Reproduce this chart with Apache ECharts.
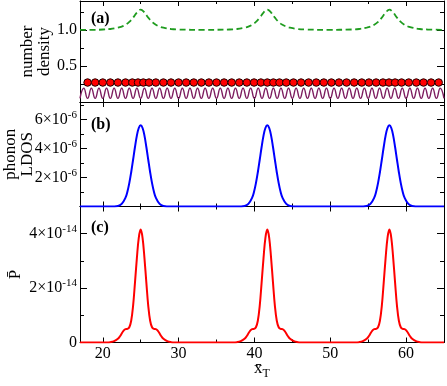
<!DOCTYPE html>
<html>
<head>
<meta charset="utf-8">
<script src="https://cdn.jsdelivr.net/npm/echarts@6/dist/echarts.min.js"></script>
<style>
    html, body { margin: 0; padding: 0; background: #ffffff; }
    #chart { width: 447px; height: 386px; }
</style>
</head>
<body>
<div id="chart"></div>
<script>
// shared x range and tick positions
const xRange = [17, 65];
const xMajorTicks = [20, 30, 40, 50, 60];
const xMinorTicks = [25, 35, 45, 55];

// (a) number density (green dashed)
const densityCurve = [
    [17, 1.0], [19, 1.0], [20, 1.005], [21, 1.012], [22, 1.03], [22.5, 1.045], [23, 1.07], [23.5, 1.11],
    [24, 1.17], [24.5, 1.24], [25, 1.28], [25.5, 1.24], [26, 1.17], [26.5, 1.11], [27, 1.07], [27.5, 1.045],
    [28, 1.03], [29, 1.012], [30, 1.005], [33.3, 1.0], [36.7, 1.005], [37.7, 1.012], [38.7, 1.03], [39.2, 1.045],
    [39.7, 1.07], [40.2, 1.11], [40.7, 1.17], [41.2, 1.24], [41.7, 1.28], [42.2, 1.24], [42.7, 1.17], [43.2, 1.11],
    [43.7, 1.07], [44.2, 1.045], [44.7, 1.03], [45.7, 1.012], [46.7, 1.005], [49.7, 1.0], [52.8, 1.005], [53.8, 1.012],
    [54.8, 1.03], [55.3, 1.045], [55.8, 1.07], [56.3, 1.11], [56.8, 1.17], [57.3, 1.24], [57.8, 1.28], [58.3, 1.24],
    [58.8, 1.17], [59.3, 1.11], [59.8, 1.07], [60.3, 1.045], [60.8, 1.03], [61.8, 1.012], [62.8, 1.005], [65, 1.0],
];

// (a) particle positions (red dots) and their height on the axis
const sitePositions = [
    18, 19, 20, 21, 22, 23, 23.9, 24.65, 25.35, 26.1,
    27, 28, 29, 30, 31, 32, 33, 34, 35, 36, 37, 38, 39,
    39.95, 40.85, 41.7, 42.5, 43.3, 44.2,
    45.15, 46.15, 47.15, 48.15, 49.15, 50.15, 51.15, 52.15, 53.15, 54.15, 55.1,
    56.05, 56.95, 57.75, 58.55, 59.4,
    60.35, 61.35, 62.3, 63.3, 64.3,
];
const siteHeight = 0.27;

// (a) substrate potential (purple wave): troughs and crests
const substrateWave = [
    [17, 0.05], [17.5, 0.19], [18, 0.05], [18.5, 0.19], [19, 0.05], [19.5, 0.19], [20, 0.05], [20.5, 0.19],
    [21, 0.05], [21.5, 0.19], [22, 0.05], [22.5, 0.19], [23, 0.05], [23.5, 0.19], [24, 0.05], [24.5, 0.19],
    [25, 0.05], [25.5, 0.19], [26, 0.05], [26.5, 0.19], [27, 0.05], [27.5, 0.19], [28, 0.05], [28.5, 0.19],
    [29, 0.05], [29.5, 0.19], [30, 0.05], [30.5, 0.19], [31, 0.05], [31.5, 0.19], [32, 0.05], [32.5, 0.19],
    [33, 0.05], [33.5, 0.19], [34, 0.05], [34.5, 0.19], [35, 0.05], [35.5, 0.19], [36, 0.05], [36.5, 0.19],
    [37, 0.05], [37.5, 0.19], [38, 0.05], [38.5, 0.19], [39, 0.05], [39.5, 0.19], [40, 0.05], [40.5, 0.19],
    [41, 0.05], [41.5, 0.19], [42, 0.05], [42.5, 0.19], [43, 0.05], [43.5, 0.19], [44, 0.05], [44.5, 0.19],
    [45, 0.05], [45.5, 0.19], [46, 0.05], [46.5, 0.19], [47, 0.05], [47.5, 0.19], [48, 0.05], [48.5, 0.19],
    [49, 0.05], [49.5, 0.19], [50, 0.05], [50.5, 0.19], [51, 0.05], [51.5, 0.19], [52, 0.05], [52.5, 0.19],
    [53, 0.05], [53.5, 0.19], [54, 0.05], [54.5, 0.19], [55, 0.05], [55.5, 0.19], [56, 0.05], [56.5, 0.19],
    [57, 0.05], [57.5, 0.19], [58, 0.05], [58.5, 0.19], [59, 0.05], [59.5, 0.19], [60, 0.05], [60.5, 0.19],
    [61, 0.05], [61.5, 0.19], [62, 0.05], [62.5, 0.19], [63, 0.05], [63.5, 0.19], [64, 0.05], [64.5, 0.19],
    [65, 0.05],
];

// (b) phonon LDOS, in units of 1e-6
const ldosCurve = [
    [17, 0], [21, 0], [22, 0.04], [22.5, 0.18], [23, 0.61], [23.25, 1.02], [23.5, 1.61], [23.75, 2.36],
    [24, 3.22], [24.25, 4.10], [24.5, 4.88], [24.75, 5.41], [25, 5.6], [25.25, 5.41], [25.5, 4.88], [25.75, 4.10],
    [26, 3.22], [26.25, 2.36], [26.5, 1.61], [26.75, 1.02], [27, 0.61], [27.5, 0.18], [28, 0.04], [29, 0],
    [37.7, 0], [38.7, 0.04], [39.2, 0.18], [39.7, 0.61], [39.95, 1.02], [40.2, 1.61], [40.45, 2.36], [40.7, 3.22],
    [40.95, 4.10], [41.2, 4.88], [41.45, 5.41], [41.7, 5.6], [41.95, 5.41], [42.2, 4.88], [42.45, 4.10], [42.7, 3.22],
    [42.95, 2.36], [43.2, 1.61], [43.45, 1.02], [43.7, 0.61], [44.2, 0.18], [44.7, 0.04], [45.7, 0],
    [53.8, 0], [54.8, 0.04], [55.3, 0.18], [55.8, 0.61], [56.05, 1.02], [56.3, 1.61], [56.55, 2.36], [56.8, 3.22],
    [57.05, 4.10], [57.3, 4.88], [57.55, 5.41], [57.8, 5.6], [58.05, 5.41], [58.3, 4.88], [58.55, 4.10], [58.8, 3.22],
    [59.05, 2.36], [59.3, 1.61], [59.55, 1.02], [59.8, 0.61], [60.3, 0.18], [60.8, 0.04], [61.8, 0], [65, 0],
];

// (c) averaged power P, in units of 1e-14
const powerCurve = [
    [17, 0], [20.5, 0], [21, 0.012], [21.5, 0.05], [22, 0.14], [22.25, 0.22], [22.5, 0.33], [22.75, 0.44],
    [23, 0.49], [23.25, 0.5], [23.5, 0.56], [23.75, 0.8], [24, 1.35], [24.25, 2.2], [24.5, 3.1], [24.75, 3.85],
    [25, 4.15], [25.25, 3.85], [25.5, 3.1], [25.75, 2.2], [26, 1.35], [26.25, 0.8], [26.5, 0.56], [26.75, 0.5],
    [27, 0.49], [27.25, 0.44], [27.5, 0.33], [27.75, 0.22], [28, 0.14], [28.5, 0.05], [29, 0.012], [29.5, 0],
    [37.2, 0], [37.7, 0.012], [38.2, 0.05], [38.7, 0.14], [38.95, 0.22], [39.2, 0.33], [39.45, 0.44], [39.7, 0.49],
    [39.95, 0.5], [40.2, 0.56], [40.45, 0.8], [40.7, 1.35], [40.95, 2.2], [41.2, 3.1], [41.45, 3.85], [41.7, 4.15],
    [41.95, 3.85], [42.2, 3.1], [42.45, 2.2], [42.7, 1.35], [42.95, 0.8], [43.2, 0.56], [43.45, 0.5], [43.7, 0.49],
    [43.95, 0.44], [44.2, 0.33], [44.45, 0.22], [44.7, 0.14], [45.2, 0.05], [45.7, 0.012], [46.2, 0],
    [53.3, 0], [53.8, 0.012], [54.3, 0.05], [54.8, 0.14], [55.05, 0.22], [55.3, 0.33], [55.55, 0.44], [55.8, 0.49],
    [56.05, 0.5], [56.3, 0.56], [56.55, 0.8], [56.8, 1.35], [57.05, 2.2], [57.3, 3.1], [57.55, 3.85], [57.8, 4.15],
    [58.05, 3.85], [58.3, 3.1], [58.55, 2.2], [58.8, 1.35], [59.05, 0.8], [59.3, 0.56], [59.55, 0.5], [59.8, 0.49],
    [60.05, 0.44], [60.3, 0.33], [60.55, 0.22], [60.8, 0.14], [61.3, 0.05], [61.8, 0.012], [62.3, 0], [65, 0],
];

// y axes: range, ticks and labels per panel
const densityRange = [0, 1.4];
const densityMajor = [0.5, 1.0];
const densityMinor = [0.25, 0.75, 1.25];
const ldosRange = [0, 7.2];
const ldosMajor = [2, 4, 6];
const ldosMinor = [1, 3, 5, 7];
const powerRange = [0, 5];
const powerMajor = [0, 2, 4];
const powerMinor = [1, 3];

const serif = 'Liberation Serif, Times New Roman, serif';
const black = '#000000';
const sciRich = {
    m: { fontFamily: serif, fontSize: 16, color: black },
    s: { fontFamily: serif, fontSize: 11, color: black, padding: [0, 0, 9, 0] },
};

const panels = [
    {
        top: 1, height: 101, range: densityRange, major: densityMajor, minor: densityMinor,
        format: (v) => v.toFixed(1), name: 'number\ndensity', nameGap: 27,
    },
    {
        top: 102, height: 104.5, range: ldosRange, major: ldosMajor, minor: ldosMinor,
        format: (v) => `{m|${v}×10}{s|-6}`, name: 'phonon\nLDOS', nameGap: 44,
    },
    {
        top: 206.5, height: 136, range: powerRange, major: powerMajor, minor: powerMinor,
        format: (v) => (v === 0 ? '{m|0}' : `{m|${v}×10}{s|-14}`), name: 'P\u0304', nameGap: 56,
    },
];

const grids = [];
const xAxes = [];
const yAxes = [];

panels.forEach((panel, p) => {
    grids.push({ left: 80, width: 364, top: panel.top, height: panel.height, containLabel: false, outerBoundsMode: 'none' });
    const isLast = p === panels.length - 1;

    [['bottom', true], ['bottom', false], ['top', true], ['top', false]].forEach(([position, major]) => {
        const withLabels = isLast && position === 'bottom' && major;
        xAxes.push({
            type: 'value',
            gridIndex: p,
            position,
            min: xRange[0],
            max: xRange[1],
            axisLine: { show: major, onZero: false, lineStyle: { color: black, width: 1 } },
            axisTick: {
                show: true, inside: true, length: major ? 5 : 3,
                customValues: major ? xMajorTicks : xMinorTicks,
                lineStyle: { color: black, width: 1 },
            },
            axisLabel: withLabels
                ? { show: true, customValues: xMajorTicks, margin: 3, fontFamily: serif, fontSize: 16, color: black }
                : { show: false },
            splitLine: { show: false },
            name: withLabels ? '{x|x\u0304}{t|T}' : '',
            nameLocation: 'middle',
            nameGap: 16,
            nameMoveOverlap: false,
            nameTextStyle: {
                rich: {
                    x: { fontFamily: serif, fontSize: 17, color: black },
                    t: { fontFamily: serif, fontSize: 12, color: black, padding: [9, 0, 0, 0] },
                },
            },
        });
    });

    [['left', true], ['left', false], ['right', true], ['right', false]].forEach(([position, major]) => {
        const withLabels = position === 'left' && major;
        yAxes.push({
            type: 'value',
            gridIndex: p,
            position,
            min: panel.range[0],
            max: panel.range[1],
            axisLine: { show: major, onZero: false, lineStyle: { color: black, width: 1 } },
            axisTick: {
                show: true, inside: true, length: major ? 7 : 4,
                customValues: major ? panel.major : panel.minor,
                lineStyle: { color: black, width: 1 },
            },
            axisLabel: withLabels
                ? {
                    show: true, customValues: panel.major, margin: 3, formatter: panel.format,
                    fontFamily: serif, fontSize: 16, color: black, rich: sciRich,
                }
                : { show: false },
            splitLine: { show: false },
            name: withLabels ? panel.name : '',
            nameLocation: 'middle',
            nameGap: panel.nameGap,
            nameRotate: 90,
            nameMoveOverlap: false,
            nameTextStyle: { fontFamily: serif, fontSize: 17, lineHeight: 17, color: black },
        });
    });
});

const panelTag = (text, top) => ({
    text, left: 91, top, padding: 0,
    textStyle: { fontFamily: serif, fontSize: 16, fontWeight: 'bold', color: black },
});

const chart = echarts.init(document.getElementById('chart'), null, { renderer: 'canvas' });
chart.setOption({
    animation: false,
    backgroundColor: '#ffffff',
    title: [panelTag('(a)', 11), panelTag('(b)', 117), panelTag('(c)', 220)],
    grid: grids,
    xAxis: xAxes,
    yAxis: yAxes,
    series: [
        {
            name: 'density', type: 'line', xAxisIndex: 0, yAxisIndex: 0,
            data: densityCurve, smooth: 0.4, showSymbol: false,
            lineStyle: { color: '#1f9c1f', width: 1.8, type: [6, 3.5] },
        },
        {
            name: 'substrate', type: 'line', xAxisIndex: 0, yAxisIndex: 0,
            data: substrateWave, smooth: 0.5, showSymbol: false,
            lineStyle: { color: '#7d1d60', width: 1.4 },
        },
        {
            name: 'sites', type: 'scatter', xAxisIndex: 0, yAxisIndex: 0,
            data: sitePositions.map((x) => [x, siteHeight]),
            symbol: 'circle', symbolSize: 7.5,
            itemStyle: { color: '#ff0000', opacity: 1, borderColor: '#200000', borderWidth: 1 },
        },
        {
            name: 'ldos', type: 'line', xAxisIndex: 4, yAxisIndex: 4,
            data: ldosCurve, smooth: 0.4, showSymbol: false,
            lineStyle: { color: '#0000ff', width: 2 },
        },
        {
            name: 'power', type: 'line', xAxisIndex: 8, yAxisIndex: 8,
            data: powerCurve, smooth: 0.4, showSymbol: false,
            lineStyle: { color: '#ff0000', width: 2 },
        },
    ],
});
</script>
</body>
</html>
